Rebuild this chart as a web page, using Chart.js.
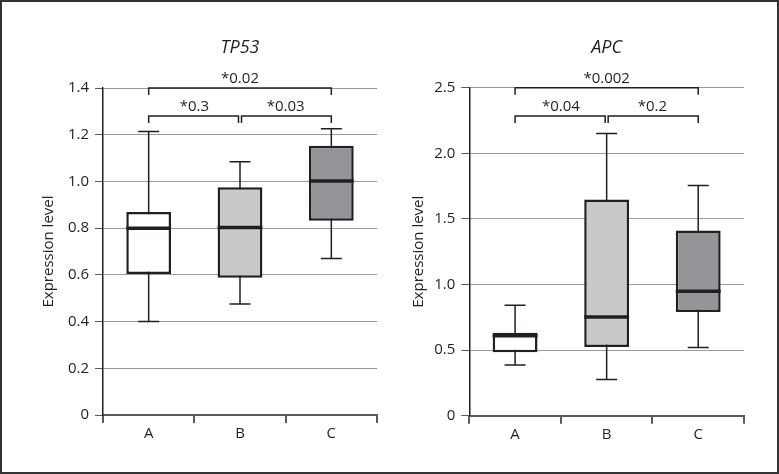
<!DOCTYPE html>
<html>
<head>
<meta charset="utf-8">
<script src="https://cdn.jsdelivr.net/npm/chart.js@4/dist/chart.umd.min.js"></script>
<style>
  html, body { margin: 0; padding: 0; background: #fff; }
  #page { position: relative; width: 779px; height: 474px; overflow: hidden; }
  #frame { position: absolute; left: 0; top: 0; width: 779px; height: 474px; box-sizing: border-box; border: 2px solid #333; pointer-events: none; }
  .panel { position: absolute; top: 0; height: 474px; }
  #left { left: 0; width: 390px; }
  #right { left: 390px; width: 389px; }
</style>
</head>
<body>
<div id="page">
  <div class="panel" id="left"><canvas id="chartTP53"></canvas></div>
  <div class="panel" id="right"><canvas id="chartAPC"></canvas></div>
  <div id="frame"></div>
</div>
<script>
const groups = ['A', 'B', 'C'];
const boxColors = ['#ffffff', '#c8c9cb', '#939598'];

// TP53 box stats
const tp53Min = [0.40, 0.475, 0.67];
const tp53Q1 = [0.604, 0.588, 0.832];
const tp53Median = [0.80, 0.803, 1.002];
const tp53Q3 = [0.869, 0.975, 1.153];
const tp53Max = [1.214, 1.084, 1.226];
const tp53Pairs = [[0, 2], [0, 1], [1, 2]];
const tp53PLabels = ['*0.02', '*0.3', '*0.03'];
const tp53Levels = [1.4, 1.28, 1.28];

// APC box stats
const apcMin = [0.387, 0.275, 0.519];
const apcQ1 = [0.484, 0.524, 0.791];
const apcMedian = [0.61, 0.753, 0.949];
const apcQ3 = [0.633, 1.648, 1.411];
const apcMax = [0.842, 2.151, 1.754];
const apcPairs = [[0, 2], [0, 1], [1, 2]];
const apcPLabels = ['*0.002', '*0.04', '*0.2'];
const apcLevels = [2.5, 2.284, 2.284];

const ink = '#231f20';
const fontFamily = '"Open Sans", "Noto Sans", sans-serif';

let boxExtras = (s) => ({
  id: 'boxExtras',
  beforeDatasetsDraw(chart) {
    const ctx = chart.ctx, y = chart.scales.y;
    const bars = chart.getDatasetMeta(0).data;
    ctx.save();
    ctx.strokeStyle = ink;
    ctx.lineWidth = 1.5;
    bars.forEach((bar, i) => {
      const top = y.getPixelForValue(s.max[i]);
      const bot = y.getPixelForValue(s.min[i]);
      ctx.beginPath();
      ctx.moveTo(bar.x, top);
      ctx.lineTo(bar.x, bot);
      ctx.moveTo(bar.x - 10.5, top);
      ctx.lineTo(bar.x + 10.5, top);
      ctx.moveTo(bar.x - 10.5, bot);
      ctx.lineTo(bar.x + 10.5, bot);
      ctx.stroke();
    });
    ctx.restore();
  },
  afterDatasetsDraw(chart) {
    const ctx = chart.ctx, y = chart.scales.y;
    const bars = chart.getDatasetMeta(0).data;
    ctx.save();
    ctx.strokeStyle = ink;
    ctx.lineWidth = 3.5;
    bars.forEach((bar, i) => {
      const py = y.getPixelForValue(s.median[i]);
      ctx.beginPath();
      ctx.moveTo(bar.x - bar.width / 2, py);
      ctx.lineTo(bar.x + bar.width / 2, py);
      ctx.stroke();
    });
    ctx.restore();
  },
  afterDraw(chart) {
    const ctx = chart.ctx, y = chart.scales.y;
    const area = chart.chartArea;
    const bars = chart.getDatasetMeta(0).data;
    ctx.save();
    // panel title, centred over the plot area
    ctx.fillStyle = ink;
    ctx.textAlign = 'center';
    ctx.textBaseline = 'middle';
    ctx.font = 'italic 18px ' + fontFamily;
    ctx.fillText(s.title, (area.left + area.right) / 2, 48);

    ctx.strokeStyle = ink;
    ctx.lineWidth = 1.5;
    ctx.font = '15px ' + fontFamily;
    ctx.textBaseline = 'alphabetic';
    s.pairs.forEach((p, k) => {
      const py = y.getPixelForValue(s.levels[k]);
      // adjacent brackets leave a small gap at the shared group
      const x1 = bars[p[0]].x + (p[1] - p[0] === 1 && p[0] > 0 ? 1.5 : 0);
      const x2 = bars[p[1]].x - (p[1] - p[0] === 1 && p[1] < bars.length - 1 ? 1.5 : 0);
      ctx.beginPath();
      ctx.moveTo(x1, py + 7);
      ctx.lineTo(x1, py);
      ctx.lineTo(x2, py);
      ctx.lineTo(x2, py + 7);
      ctx.stroke();
      ctx.fillText(s.labels[k], (bars[p[0]].x + bars[p[1]].x) / 2, py - 5);
    });
    ctx.restore();
  }
});

let makeChart = (id, s, yMax, yStep, padLeft, padRight, yWidth, xHeight, padTop) => {
  const ctx = document.getElementById(id);
  const data = {
    labels: groups,
    datasets: [{
      data: groups.map((g, i) => [s.q1[i], s.q3[i]]),
      backgroundColor: boxColors,
      borderColor: ink,
      borderWidth: 2.5,
      borderSkipped: false,
      barPercentage: 0.49,
      categoryPercentage: 1
    }]
  };
  const config = {
    type: 'bar',
    data: data,
    options: {
      responsive: true,
      maintainAspectRatio: false,
      animation: false,
      layout: { padding: { left: padLeft, right: padRight, top: padTop, bottom: 0 } },
      plugins: {
        legend: { display: false },
        tooltip: { enabled: false }
      },
      scales: {
        x: {
          afterFit: (sc) => { sc.height = xHeight; },
          border: { color: '#5a5a5a', width: 2 },
          grid: { drawOnChartArea: false, offset: true, tickLength: 8, tickColor: '#5a5a5a', lineWidth: 2 },
          ticks: { color: ink, padding: 2, font: { family: fontFamily, size: 15 } }
        },
        y: {
          min: 0,
          max: yMax,
          afterFit: (sc) => { sc.width = yWidth; },
          border: { color: ink, width: 1.5 },
          grid: { color: '#9a9a9a', lineWidth: 1, tickLength: 8, tickColor: '#5a5a5a' },
          ticks: {
            stepSize: yStep,
            color: ink,
            padding: 6,
            font: { family: fontFamily, size: 15 },
            callback: (v) => (Math.abs(v) < 1e-9 ? '0' : Number(v).toFixed(1))
          },
          title: {
            display: true,
            text: 'Expression level',
            color: ink,
            padding: 0,
            font: { family: fontFamily, size: 15 }
          }
        }
      }
    },
    plugins: [boxExtras(s)]
  };
  return new Chart(ctx, config);
};

makeChart('chartTP53', {
  title: 'TP53',
  min: tp53Min, q1: tp53Q1, median: tp53Median, q3: tp53Q3, max: tp53Max,
  pairs: tp53Pairs, labels: tp53PLabels, levels: tp53Levels
}, 1.4, 0.2, 40, 13, 63, 59, 88);

makeChart('chartAPC', {
  title: 'APC',
  min: apcMin, q1: apcQ1, median: apcMedian, q3: apcQ3, max: apcMax,
  pairs: apcPairs, labels: apcPLabels, levels: apcLevels
}, 2.5, 0.5, 20, 35, 59.3, 58.3, 87.7);
</script>
</body>
</html>
